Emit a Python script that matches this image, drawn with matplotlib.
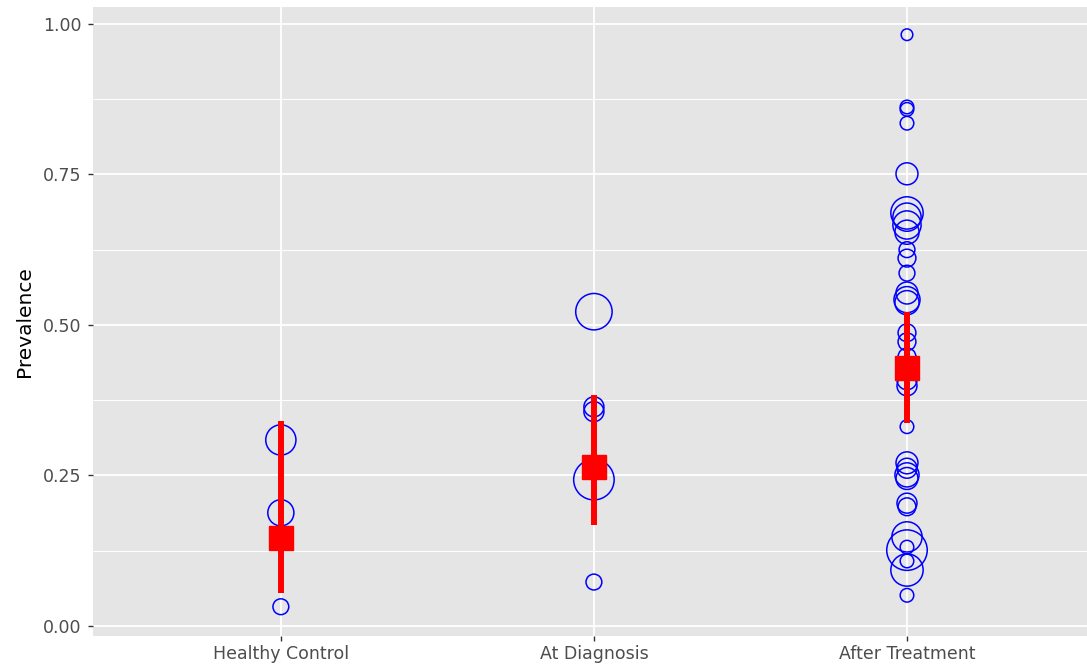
#Prevalence by group: individual studies (circles sized by weight) with pooled estimate and CI
import matplotlib
matplotlib.use("Agg")
import matplotlib.pyplot as plt
import numpy as np

groups = ["Healthy Control", "At Diagnosis", "After Treatment"]

# individual study prevalence and weight for each group
hc_prev = [0.309, 0.188, 0.032]
hc_n = [56, 42, 16]
dx_prev = [0.522, 0.364, 0.356, 0.243, 0.073]
dx_n = [81, 25, 25, 100, 16]
at_prev = [0.982, 0.862, 0.858, 0.835, 0.751, 0.686, 0.679, 0.666, 0.654,
           0.625, 0.611, 0.586, 0.553, 0.542, 0.537, 0.487, 0.472, 0.447,
           0.409, 0.399, 0.331, 0.271, 0.262, 0.251, 0.245, 0.204, 0.198,
           0.148, 0.131, 0.126, 0.108, 0.093, 0.051]
at_n = [9, 12, 12, 12, 30, 64, 49, 49, 36,
        16, 20, 16, 30, 42, 36, 20, 20, 20,
        25, 25, 12, 30, 25, 36, 30, 25, 20,
        56, 12, 100, 12, 64, 12]

# pooled estimates and confidence limits
pooled = [0.146, 0.264, 0.429]
ci_low = [0.055, 0.168, 0.337]
ci_high = [0.341, 0.384, 0.522]

fig = plt.figure(figsize=(10.87, 6.72), dpi=100)
ax = fig.add_axes([93/1087, 36/672, 994/1087, 629/672])
ax.set_facecolor("#E5E5E5")

ax.set_xlim(0.4, 3.575)
ax.set_ylim(-0.0166, 1.028)

ax.set_yticks([0, 0.25, 0.5, 0.75, 1.0])
ax.set_yticklabels(["0.00", "0.25", "0.50", "0.75", "1.00"])
ax.set_yticks([0.125, 0.375, 0.625, 0.875], minor=True)
ax.set_xticks([1, 2, 3])
ax.set_xticklabels(groups)

ax.grid(True, which="major", color="white", linewidth=1.3, zorder=0)
ax.grid(True, which="minor", axis="y", color="white", linewidth=0.7, zorder=0)
ax.set_axisbelow(True)
for sp in ax.spines.values():
    sp.set_visible(False)
ax.tick_params(which="major", length=3.5, width=1, color="#333333",
               labelsize=12.5, labelcolor="#4D4D4D")
ax.tick_params(axis="y", pad=5)
ax.tick_params(axis="x", pad=3)
ax.tick_params(which="minor", length=0)

all_n = np.array(hc_n + dx_n + at_n, dtype=float)
nmin, nmax = all_n.min(), all_n.max()

def area(n):
    n = np.asarray(n, dtype=float)
    return 70 + (n - nmin) / (nmax - nmin) * (850 - 70)

for i, (p, n) in enumerate([(hc_prev, hc_n), (dx_prev, dx_n), (at_prev, at_n)]):
    ax.scatter(np.full(len(p), i + 1), p, s=area(n), facecolors="none",
               edgecolors="#0000FF", linewidths=1.1, zorder=3)

x = np.arange(1, 4)
ax.vlines(x, ci_low, ci_high, color="#FF0000", linewidth=4.3, zorder=4)
ax.plot(x, pooled, linestyle="none", marker="s", markersize=17,
        color="#FF0000", zorder=5)

ax.set_ylabel("Prevalence", fontsize=14.5, color="black", labelpad=6)

fig.savefig("out.png", dpi=100)
